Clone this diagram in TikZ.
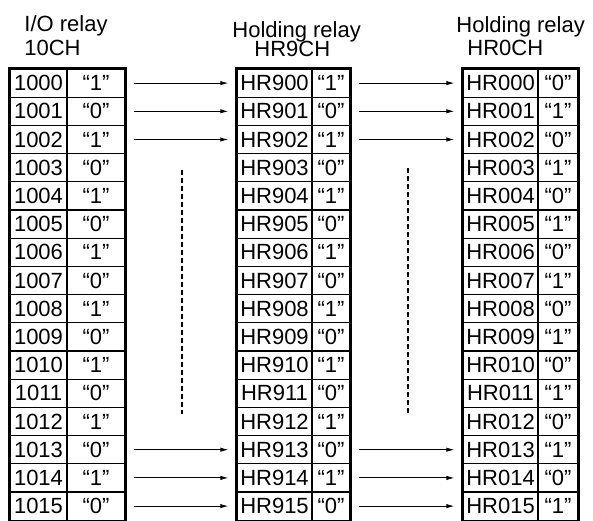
\documentclass[tikz,border=0pt]{standalone}
\usepackage{fontspec}
\setmainfont{Liberation Sans}
\usetikzlibrary{arrows.meta,calc}

\begin{document}
\begin{tikzpicture}[x=0.5pt, y=-0.5pt,
  cell/.style={rectangle, draw=black, line width=0.6pt, inner sep=0pt, minimum height=14.1pt, font=\fontsize{11}{13}\selectfont},
  head/.style={anchor=base west, inner sep=0pt, font=\fontsize{11}{13}\selectfont},
  conn/.style={-{Latex[length=4pt,width=2.2pt]}, line width=0.5pt, shorten <=4pt, shorten >=4pt},
  gap/.style={line width=0.6pt, dash pattern=on 2.5pt off 1.5pt}
]
\useasboundingbox (0,0) rectangle (593,520);

% titles above the three tables
\node[head] (iohead) at (24,31) {I/O relay};
\node[head] (iosub) at (24,55) {10CH};
\node[head] (hrahead) at (232,37) {Holding relay};
\node[head] (hrasub) at (254,56) {HR9CH};
\node[head] (hrbhead) at (456,32) {Holding relay};
\node[head] (hrbsub) at (467,55) {HR0CH};

% rows of the three tables
\foreach \i in {0,...,15}{
  \pgfmathsetmacro\y{83.1+28.2*\i}
  \pgfmathtruncatemacro\odd{mod(\i,2)}
  \edef\nn{\ifnum\i<10 0\fi\i}
  \ifnum\odd=0 \def\va{“1”}\def\vb{“0”}\else\def\va{“0”}\def\vb{“1”}\fi
  \node[cell, minimum width=28.5pt] (io\i) at (38.5,\y) {\the\numexpr1000+\i\relax};
  \node[cell, minimum width=29pt] (iov\i) at (96,\y) {\va};
  \node[cell, minimum width=37.5pt] (hra\i) at (274.5,\y) {HR9\nn};
  \node[cell, minimum width=19pt] (hrav\i) at (331,\y) {\va};
  \node[cell, minimum width=37.5pt] (hrb\i) at (500.5,\y) {HR0\nn};
  \node[cell, minimum width=20pt] (hrbv\i) at (558,\y) {\vb};
}

% heavier outline of each table
\draw[line width=1.1pt] (io0.north west) rectangle (iov15.south east);
\draw[line width=1.1pt] (hra0.north west) rectangle (hrav15.south east);
\draw[line width=1.1pt] (hrb0.north west) rectangle (hrbv15.south east);

% transfers
\foreach \i in {0,1,2,13,14,15}{
  \draw[conn] (iov\i) -- (hra\i);
  \draw[conn] (hrav\i) -- (hrb\i);
}

% rows in between
\coordinate (gapatop) at (182,170);
\coordinate (gapabot) at (182,414);
\coordinate (gapbtop) at (408,168);
\coordinate (gapbbot) at (408,413);
\draw[gap] (gapatop) -- (gapabot);
\draw[gap] (gapbtop) -- (gapbbot);
\end{tikzpicture}
\end{document}
